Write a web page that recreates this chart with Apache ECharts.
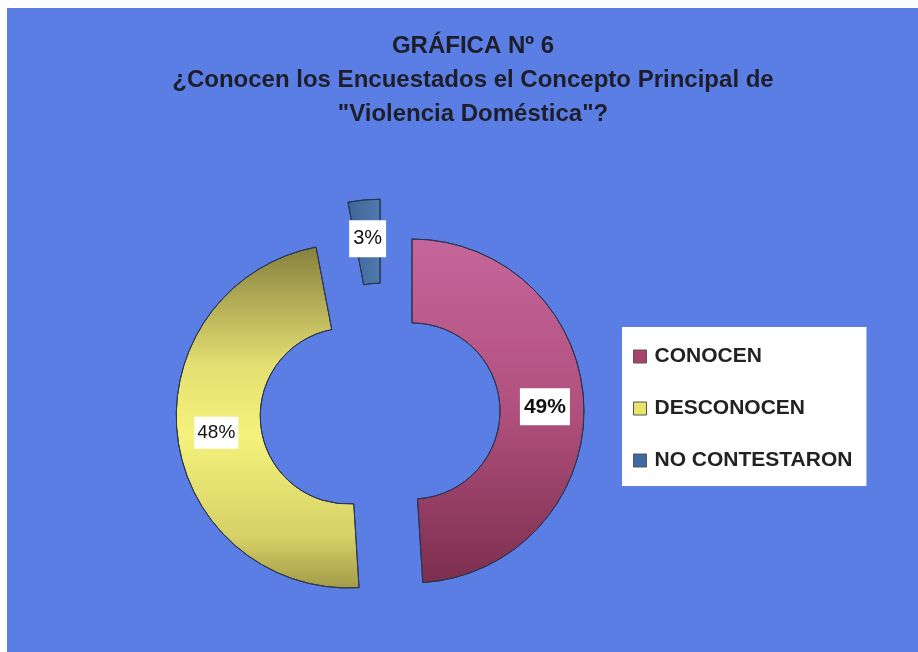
<!DOCTYPE html>
<html>
<head>
<meta charset="utf-8">
<script src="https://cdn.jsdelivr.net/npm/echarts@6/dist/echarts.min.js"></script>
<style>
  body { margin: 0; background: #ffffff; }
  #chart { position: absolute; left: 7px; top: 8px; width: 911px; height: 644px; }
</style>
</head>
<body>
<div id="chart"></div>
<script>
// data
const categories = ['CONOCEN', 'DESCONOCEN', 'NO CONTESTARON'];
const percents = [49, 48, 3];
const titleLines = ['GRÁFICA Nº 6', '¿Conocen los Encuestados el Concepto Principal de', '"Violencia Doméstica"?'];

const fills = [
    { type: 'linear', x: 0, y: 0, x2: 0, y2: 1, colorStops: [{ offset: 0, color: '#c6659a' }, { offset: 0.5, color: '#b0507e' }, { offset: 1, color: '#7c2e4e' }] },
    { type: 'linear', x: 0, y: 0, x2: 0, y2: 1, colorStops: [{ offset: 0, color: '#86803e' }, { offset: 0.35, color: '#e4e072' }, { offset: 0.55, color: '#f4f27c' }, { offset: 0.85, color: '#d6d066' }, { offset: 1, color: '#a29a48' }] },
    { type: 'linear', x: 0, y: 0, x2: 1, y2: 0, colorStops: [{ offset: 0, color: '#3e6496' }, { offset: 1, color: '#4f7bb0' }] }
];
const legendColors = ['#a8436e', '#e8e36a', '#3f6aa3'];
const labelFonts = [
    { fontSize: 21, fontWeight: 'bold', padding: [9, 4, 7, 4] },
    { fontSize: 19, fontWeight: 'normal', padding: [7, 3, 6, 3] },
    { fontSize: 20, fontWeight: 'normal', padding: [9, 4, 8, 4] }
];

let myChart = echarts.init(document.getElementById('chart'));

// one ring per explosion distance: the small slice sits further out
function ring(showIdx, offset, cx) {
    return {
        type: 'pie',
        center: [cx, 404],
        radius: [88, 172],
        startAngle: 90,
        clockwise: true,
        selectedMode: 'multiple',
        selectedOffset: offset,
        avoidLabelOverlap: false,
        silent: true,
        label: {
            show: true,
            position: 'inside',
            formatter: '{c}%',
            backgroundColor: '#ffffff',
            fontFamily: 'Liberation Sans',
            color: '#111111'
        },
        labelLine: { show: false },
        emphasis: { disabled: true },
        data: categories.map((c, i) => {
            const on = showIdx.indexOf(i) >= 0;
            const style = on
                ? { color: fills[i], borderColor: '#2a3550', borderWidth: 1 }
                : { color: 'rgba(0,0,0,0)', borderWidth: 0 };
            return {
                name: c,
                value: percents[i],
                selected: true,
                itemStyle: style,
                select: { itemStyle: style },
                label: on ? labelFonts[i] : { show: false }
            };
        })
    };
}

let option = {
    backgroundColor: '#5b7ee4',
    title: {
        text: titleLines.join('\n'),
        left: 461,
        top: 16,
        textAlign: 'center',
        textStyle: {
            fontFamily: 'Liberation Sans',
            fontSize: 24,
            fontWeight: 'bold',
            color: '#1e1e2a',
            lineHeight: 34,
            align: 'center'
        }
    },
    legend: {
        orient: 'vertical',
        left: 615,
        top: 319,
        backgroundColor: '#ffffff',
        padding: [19, 14, 15, 11],
        itemGap: 31,
        itemWidth: 13,
        itemHeight: 13,
        icon: 'rect',
        selectedMode: false,
        textStyle: {
            fontFamily: 'Liberation Sans',
            fontSize: 21,
            fontWeight: 'bold',
            color: '#222222',
            padding: [0, 0, 0, 3]
        },
        data: categories.map((c, i) => ({
            name: c,
            itemStyle: { color: legendColors[i], borderColor: '#555', borderWidth: 1 }
        }))
    },
    series: [ring([0, 1], 32, 373), ring([2], 41, 377)]
};

myChart.setOption(option);
</script>
</body>
</html>
